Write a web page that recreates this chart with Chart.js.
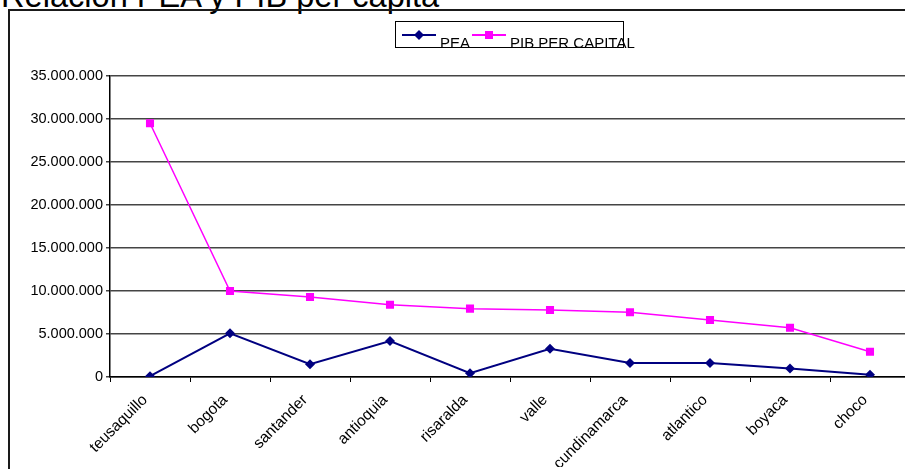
<!DOCTYPE html>
<html>
<head>
<meta charset="utf-8">
<script src="https://cdn.jsdelivr.net/npm/chart.js@4/dist/chart.umd.min.js"></script>
<style>
  html, body { margin: 0; padding: 0; width: 905px; height: 469px; overflow: hidden; background: #fff; }
  body { position: relative; font-family: Arial, "Liberation Sans", sans-serif; color: #000; }
  #title { position: absolute; left: 1px; top: -20px; font-size: 32.6px; line-height: 32px; white-space: nowrap; }
  #frame { position: absolute; left: 8px; top: 9px; width: 1000px; height: 1000px; border: 2px solid #1a1a1a; }
  #chart { position: absolute; left: 0; top: 0; }
  #legend { position: absolute; left: 395px; top: 21px; width: 227px; height: 25px; border: 1px solid #000; }
  .item { position: absolute; top: 0; font-size: 15px; white-space: nowrap; }
  .item svg { position: absolute; top: 6px; }
  .item span { position: absolute; top: 12px; }
</style>
</head>
<body>
<div id="title">Relación PEA y PIB per capita</div>
<div id="frame"></div>
<canvas id="chart" width="930" height="480"></canvas>
<div id="legend">
  <div class="item" style="left:5px">
    <svg width="36" height="14"><line x1="1" y1="7" x2="35" y2="7" stroke="#000080" stroke-width="2"/><polygon points="18,2 23,7 18,12 13,7" fill="#000080"/></svg>
    <span style="left:39px">PEA</span>
  </div>
  <div class="item" style="left:75px">
    <svg width="36" height="14"><line x1="1" y1="7" x2="35" y2="7" stroke="#ff00ff" stroke-width="2"/><rect x="14" y="3" width="8" height="8" fill="#ff00ff"/></svg>
    <span style="left:39px">PIB PER CAPITAL</span>
  </div>
</div>
<script>
'use strict';

var regiones = ['teusaquillo', 'bogota', 'santander', 'antioquia', 'risaralda',
                'valle', 'cundinamarca', 'atlantico', 'boyaca', 'choco'];
var pea = [100000, 5080000, 1480000, 4190000, 430000,
           3290000, 1630000, 1620000, 1000000, 270000];
var pibPerCapita = [29500000, 10000000, 9300000, 8400000, 7950000,
                    7800000, 7520000, 6630000, 5730000, 2940000];
var yTicks = [0, 5000000, 10000000, 15000000, 20000000, 25000000, 30000000, 35000000];

var puntos = function(n){
  return String(n).replace(/\B(?=(\d{3})+(?!\d))/g, '.');
};

var createDataset = function(label, data, color, style, radius, width){
  return {
    label: label, data: data,
    borderColor: color, backgroundColor: color,
    borderWidth: width, pointStyle: style,
    pointRadius: radius, pointHoverRadius: radius,
    pointBorderWidth: 0, tension: 0
  };
};

new Chart(document.querySelector('#chart'), {
  type: 'line',
  data: {
    labels: regiones,
    datasets: [
      createDataset('PEA', pea, '#000080', 'rectRot', 5, 2),
      createDataset('PIB PER CAPITAL', pibPerCapita, '#ff00ff', 'rect', 5.7, 1.5)
    ]
  },
  options: {
    responsive: false, animation: false, devicePixelRatio: 1,
    layout: { padding: { left: 0, top: 76, right: 20, bottom: 13 } },
    plugins: { legend: { display: false }, tooltip: { enabled: false }, title: { display: false } },
    scales: {
      x: {
        offset: true,
        afterFit: function(scale){ scale.height = 90; },
        grid: { offset: true, drawOnChartArea: false, drawTicks: true, tickLength: 5, color: '#000' },
        border: { color: '#000', width: 1.5 },
        ticks: { color: '#000', font: { family: 'Arial', size: 15.5 }, minRotation: 45, maxRotation: 45,
                 padding: 9, labelOffset: -5, autoSkip: false }
      },
      y: {
        min: 0, max: 35000000,
        afterFit: function(scale){ scale.width = 110; },
        afterBuildTicks: function(scale){ scale.ticks = yTicks.map(function(v){ return { value: v }; }); },
        grid: { color: '#444', lineWidth: 1.5, tickLength: 4 },
        border: { color: '#000', width: 1.5 },
        ticks: { color: '#000', font: { family: 'Arial', size: 14.5 }, padding: 3,
                 callback: function(v){ return puntos(v); } }
      }
    }
  }
});
</script>
</body>
</html>
